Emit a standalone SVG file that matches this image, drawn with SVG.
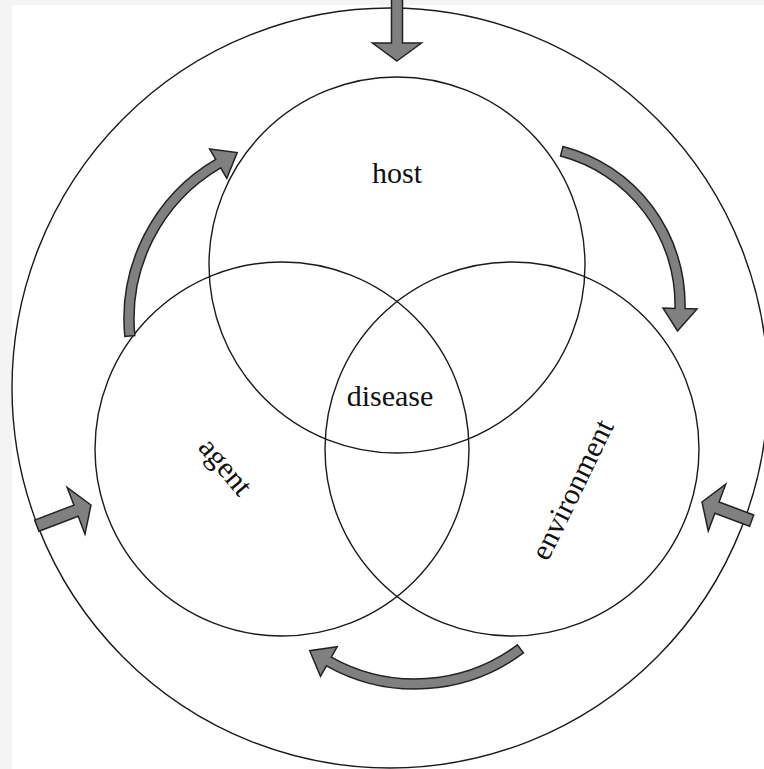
<svg xmlns="http://www.w3.org/2000/svg" width="764" height="769" viewBox="0 0 764 769">
<style>
.c{fill:none;stroke:#1a1a1a;stroke-width:1.4}
.ar{fill:#808080;stroke:#222;stroke-width:1.5;stroke-linejoin:miter}
.t{font-family:"Liberation Serif","Times New Roman",serif;font-size:30px;fill:#111;text-anchor:middle}
</style>
<rect width="764" height="769" fill="#f4f4f4"/>
<rect x="12" y="5" width="752" height="764" fill="#ffffff"/>
<g id="outer"><ellipse class="c" cx="390" cy="388" rx="378" ry="380"/></g>
<g id="host"><circle class="c" cx="397" cy="265" r="188"/><text class="t" x="397" y="183">host</text></g>
<g id="agent"><circle class="c" cx="282" cy="449" r="187"/><text class="t" transform="translate(225,467) rotate(50)" x="0" y="9">agent</text></g>
<g id="environment"><circle class="c" cx="512" cy="449" r="187"/><text class="t" transform="translate(573,490) rotate(-64)" x="0" y="9">environment</text></g>
<g id="disease"><text class="t" x="390" y="406">disease</text></g>
<g id="connectors">
<path class="ar" d="M124.8,336.4 A185,185 0 0 1 215.7,159.3 L209.6,148.9 L237.2,152.5 L226.8,178.3 L220.7,167.9 A175,175 0 0 0 134.8,335.5 Z"/>
<path class="ar" d="M563.0,146.4 A163.5,163.5 0 0 1 685.0,308.6 L697.0,308.9 L677.5,331 L663.0,308.1 L675.0,308.4 A153.5,153.5 0 0 0 560.5,156.1 Z"/>
<path class="ar" d="M523.4,652.9 A181,181 0 0 1 326.4,665.8 L320.5,676.3 L309.7,650.7 L337.2,646.7 L331.3,657.1 A171,171 0 0 0 517.4,644.9 Z"/>
<polygon class="ar" transform="translate(397,61) rotate(90)" points="0,0 -18,-24.5 -18,-5.5 -62,-5.5 -62,5.5 -18,5.5 -18,24.5"/>
<polygon class="ar" transform="translate(91,505) rotate(-20.9)" points="0,0 -16,-25 -16,-6 -58,-6 -58,6 -16,6 -16,25"/>
<polygon class="ar" transform="translate(702,502) rotate(200.5)" points="0,0 -16,-25 -16,-6 -53,-6 -53,6 -16,6 -16,25"/>
</g>
</svg>
